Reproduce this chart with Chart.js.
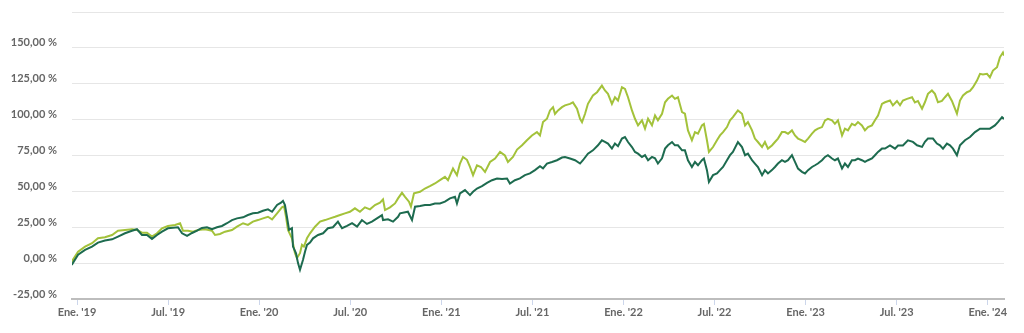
<!DOCTYPE html>
<html>
<head>
<meta charset="utf-8">
<script src="https://cdn.jsdelivr.net/npm/chart.js@4/dist/chart.umd.min.js"></script>
<style>
    body { margin: 0; background: #ffffff; }
    canvas { display: block; }
</style>
</head>
<body>
<canvas id="chart" width="1024" height="333"></canvas>
<script>
// x values are months counted from January 2019
var xTickValues = [0, 6, 12, 18, 24, 30, 36, 42, 48, 54, 60];
var xTickLabels = ["Ene. '19", "Jul. '19", "Ene. '20", "Jul. '20", "Ene. '21", "Jul. '21",
                   "Ene. '22", "Jul. '22", "Ene. '23", "Jul. '23", "Ene. '24"];

var darkMonths = [-0.35, 0.07, 0.53, 0.99, 1.38, 1.84, 2.31, 2.70, 3.16, 3.62, 3.95, 4.28, 4.61, 4.94, 5.27, 5.60, 5.99,
    6.65, 6.92, 7.25, 7.58, 7.91, 8.23, 8.56, 8.89, 9.22, 9.55, 9.88, 10.21, 10.54, 10.94, 11.26, 11.59, 11.92,
    12.25, 12.58, 12.85, 13.18, 13.44, 13.57, 13.70, 13.83, 13.97, 14.16, 14.23, 14.43, 14.56, 14.69, 14.89,
    15.02, 15.15, 15.35, 15.55, 15.88, 16.21, 16.53, 16.86, 17.19, 17.46, 17.79, 18.12, 18.45, 18.77, 19.10,
    19.43, 19.76, 20.09, 20.16, 20.49, 20.82, 21.15, 21.28, 21.80, 22.07, 22.27, 22.60, 22.92, 23.25, 23.58,
    23.91, 24.24, 24.57, 24.90, 25.03, 25.23, 25.56, 25.89, 26.09, 26.35, 26.68, 27.01, 27.34, 27.67, 28.00,
    28.33, 28.52, 28.85, 29.18, 29.51, 29.84, 30.17, 30.50, 30.70, 30.96, 31.29, 31.62, 31.95, 32.15, 32.48,
    32.81, 33.14, 33.33, 33.66, 33.99, 34.32, 34.58, 34.78, 34.98, 35.24, 35.44, 35.64, 35.90, 36.10, 36.30,
    36.56, 36.76, 36.96, 37.22, 37.42, 37.62, 37.88, 38.08, 38.27, 38.54, 38.74, 38.93, 39.20, 39.39, 39.59,
    39.86, 40.05, 40.25, 40.51, 40.71, 40.91, 41.17, 41.30, 41.50, 41.63, 41.90, 42.16, 42.36, 42.56, 42.82,
    43.02, 43.21, 43.54, 43.81, 44.01, 44.20, 44.47, 44.66, 44.86, 45.13, 45.32, 45.52, 45.78, 45.98, 46.18,
    46.44, 46.64, 46.84, 47.10, 47.30, 47.50, 47.76, 47.96, 48.16, 48.42, 48.62, 48.81, 49.08, 49.28, 49.47,
    49.74, 49.93, 50.13, 50.40, 50.59, 50.79, 51.05, 51.25, 51.45, 51.71, 51.91, 52.11, 52.37, 52.57, 52.77,
    53.03, 53.23, 53.56, 53.89, 54.09, 54.41, 54.74, 55.07, 55.34, 55.67, 55.86, 56.06, 56.39, 56.65, 56.85,
    57.05, 57.31, 57.51, 57.71, 57.97, 58.17, 58.50, 58.83, 59.16, 59.49, 59.82, 60.14, 60.47, 60.67, 60.94, 61.07];
var darkValues = [-1.2, 5.8, 9.2, 11.5, 14.3, 15.7, 16.6, 18.5, 20.8, 22.6, 23.6, 19.6, 19.6, 16.9, 19.6, 22, 24.3,
    25, 20.8, 19, 21, 22.6, 24.5, 25, 23.6, 25, 25.9, 27.8, 30, 31.2, 31.9, 33.5, 34.7, 35.1,
    36.5, 37.5, 35.8, 40.5, 42.1, 43.4, 40.5, 32.3, 23.1, 24.3, 11.5, 6.9, 0, -4.6, 2.3,
    8, 12.7, 14.3, 17.3, 19.6, 20.8, 24.3, 25, 28.9, 24.3, 25.9, 27.8, 25.4, 30, 27.3,
    28.9, 31.2, 33.5, 30, 30.5, 28.9, 32.3, 34.7, 35.8, 30, 39.3, 39.8, 40.5, 40.5, 41.6,
    41.6, 42.8, 45.1, 46.2, 41.6, 48.6, 50.9, 47.4, 49.7, 52, 53.6, 55.9, 57.8, 59, 58.6,
    59, 55.5, 57.8, 59, 61.3, 62.5, 64.8, 67.5, 66, 69.4, 70.5, 71.7, 73.6, 74, 72.9,
    71.7, 69.4, 71.7, 76.3, 78.6, 82.1, 85.6, 84.5, 83.3, 79.8, 83.3, 81.5, 86.8, 87.9, 84.4,
    80.9, 77.5, 76.3, 74, 75.2, 71.7, 74, 73, 69.4, 73, 79.8, 82.1, 84.4, 82.1, 82.1,
    78.6, 78.6, 71.7, 67, 70.5, 68.2, 71.7, 72.9, 64.8, 56.6, 61.3, 62.5, 64.8, 67, 71.7,
    75.2, 77.5, 84.4, 80.9, 75.2, 76.3, 71.7, 69.4, 67, 61.3, 64.8, 62.5, 64.8, 67, 69.4,
    71.7, 70.5, 71.7, 75.2, 70.5, 65.9, 63.6, 62.5, 64.8, 67, 68.2, 69.4, 71.7, 74, 75.2,
    72.9, 71.7, 72.9, 65.9, 69.4, 67, 71.7, 71.7, 72.9, 71.7, 70.5, 71.7, 72.9, 75.2, 77.5,
    79.8, 79.8, 82, 79.8, 82, 82, 85.6, 84.5, 82.1, 81, 84.5, 86.8, 86.8, 83.3, 82.1,
    79.8, 83.3, 82.1, 79.8, 75.2, 82.1, 85.6, 87.9, 91.3, 93.7, 93.7, 93.7, 96, 98.3, 101.7, 100.5];

var lightMonths = [-0.35, 0.07, 0.53, 0.99, 1.38, 1.84, 2.31, 2.70, 3.16, 3.62, 3.95, 4.28, 4.61, 4.94, 5.27, 5.60, 5.99,
    6.46, 6.79, 6.98, 7.31, 7.64, 7.97, 8.43, 8.89, 9.09, 9.42, 9.75, 10.21, 10.54, 10.94, 11.26, 11.59, 11.92,
    12.25, 12.58, 12.85, 13.18, 13.50, 13.64, 13.77, 13.90, 14.16, 14.36, 14.49, 14.69, 14.82, 14.95, 15.15,
    15.35, 15.68, 16.01, 16.34, 16.67, 17.00, 17.33, 17.65, 17.98, 18.31, 18.64, 18.97, 19.30, 19.63, 19.96,
    20.16, 20.29, 20.62, 20.95, 21.15, 21.41, 21.61, 21.87, 22.00, 22.20, 22.60, 22.92, 23.25, 23.58, 23.91,
    24.24, 24.44, 24.77, 25.03, 25.23, 25.43, 25.69, 25.89, 26.09, 26.35, 26.61, 26.88, 27.21, 27.54, 27.87,
    28.19, 28.39, 28.72, 28.99, 29.32, 29.64, 29.97, 30.30, 30.50, 30.70, 30.96, 31.16, 31.36, 31.49, 31.69,
    31.95, 32.15, 32.48, 32.67, 32.94, 33.14, 33.27, 33.47, 33.66, 33.99, 34.26, 34.58, 34.78, 34.98, 35.24,
    35.44, 35.64, 35.90, 36.10, 36.30, 36.56, 36.76, 36.96, 37.22, 37.42, 37.62, 37.88, 38.08, 38.27, 38.54,
    38.74, 38.93, 39.20, 39.39, 39.59, 39.86, 40.05, 40.25, 40.51, 40.71, 40.91, 41.17, 41.30, 41.50, 41.63,
    41.90, 42.16, 42.36, 42.56, 42.82, 43.02, 43.21, 43.54, 43.81, 44.01, 44.20, 44.47, 44.66, 44.86, 45.13,
    45.32, 45.52, 45.78, 45.98, 46.18, 46.44, 46.64, 46.84, 47.10, 47.30, 47.50, 47.76, 47.96, 48.16, 48.42,
    48.62, 48.81, 49.08, 49.28, 49.47, 49.74, 49.93, 50.13, 50.40, 50.59, 50.79, 51.05, 51.25, 51.45, 51.71,
    51.91, 52.11, 52.37, 52.57, 52.77, 53.03, 53.23, 53.56, 53.75, 54.02, 54.22, 54.41, 54.68, 55.01, 55.20,
    55.40, 55.67, 55.86, 56.06, 56.32, 56.52, 56.72, 56.98, 57.18, 57.38, 57.64, 57.84, 57.97, 58.17, 58.37,
    58.63, 58.83, 59.03, 59.29, 59.49, 59.68, 59.95, 60.14, 60.34, 60.61, 60.80, 61.00, 61.07];
var lightValues = [1, 8, 11.5, 13.9, 17.3, 18, 19.6, 22.6, 23.1, 23.6, 23.1, 21.2, 21.2, 18.5, 20.8, 24.3, 25.9,
    26.6, 27.8, 22.6, 22.6, 21.9, 23.1, 23.6, 22.6, 19.6, 20.3, 21.9, 23.1, 25.4, 27.8, 26.6, 28.9, 30,
    31.2, 32.3, 30.5, 34.7, 38.9, 39.6, 32.3, 23.1, 17.3, 6.9, 3.5, 6.9, 12.7, 11.5, 17.3,
    20.8, 25.4, 28.9, 30, 31.2, 32.3, 33.5, 34.7, 35.8, 38.2, 35.8, 38.9, 37.5, 40.5, 42.1,
    44.4, 37, 38.9, 41.6, 45.1, 49, 46.2, 42.8, 39.3, 48.6, 49.7, 52, 53.6, 55.5, 57.8,
    60.1, 57.8, 65.9, 61.3, 69.4, 74, 72, 67, 61.3, 68.2, 67, 63.6, 70.5, 72.9, 77.5,
    75, 70.5, 74, 79.1, 82.1, 85.6, 89, 91.3, 89, 98.3, 100.6, 106.4, 108.7, 104, 106.4,
    108.7, 109.9, 111, 112, 107.6, 100.6, 98.3, 104.1, 111, 116.8, 119.1, 123.7, 120.3, 118, 111,
    115.6, 113.3, 122.6, 121.4, 115.6, 106.4, 100.6, 96, 99.5, 93.7, 100.6, 96, 102.9, 99.5, 104.1,
    112.1, 114.5, 116.8, 114.5, 115.6, 105.2, 104.1, 92.5, 85.6, 91.3, 90.2, 96, 97, 85.6, 77.5,
    80.9, 85.6, 89, 91.3, 94.8, 99.5, 101.7, 106.4, 104.1, 96, 98.3, 92.5, 86.8, 84.4, 80.9,
    84.4, 79.8, 82, 84.4, 86.8, 91.3, 91.3, 90.2, 92.5, 89, 86.8, 85.6, 84.4, 86.8, 90.2,
    92.5, 93.7, 94.8, 99.5, 100.6, 99.5, 97.1, 99.5, 89, 93.7, 92.5, 97.1, 96, 98.3, 96,
    92.5, 94.8, 96, 99.5, 102.9, 111, 112.1, 113.3, 109.9, 113, 110, 113.3, 114.5, 115.6, 112,
    113, 107.6, 112.1, 118, 120.3, 118, 112.1, 113, 115.6, 118, 113, 107.6, 104.1, 113.3, 116.8,
    119.1, 120, 122.6, 127.2, 131.9, 131.5, 131.9, 129.5, 134.2, 136.5, 143.4, 146.8, 144.6];

function toPoints(xs, ys)
{
    return xs.map((x, i) => ({x: x, y: ys[i]}));
}

var labelFont = {family: "Lato", size: 11, weight: "bold"};

new Chart(document.getElementById("chart").getContext("2d"), {
    type: "line",
    data: {
        datasets: [
            {data: toPoints(darkMonths, darkValues), borderColor: "#1d6b4f", borderWidth: 2},
            {data: toPoints(lightMonths, lightValues), borderColor: "#a3c23a", borderWidth: 2}
        ]
    },
    options: {
        responsive: false,
        animation: false,
        devicePixelRatio: 1,
        layout: {padding: {left: 0, right: 20, top: 12, bottom: 0}},
        elements: {point: {radius: 0}, line: {tension: 0}},
        plugins: {legend: {display: false}, tooltip: {enabled: false}},
        scales: {
            x: {
                type: "linear",
                min: -0.33,
                max: 61.07,
                afterBuildTicks: axis => { axis.ticks = xTickValues.map(v => ({value: v})); },
                afterFit: axis => { axis.height = 34; },
                grid: {display: true, drawOnChartArea: false, drawTicks: true, tickLength: 6, tickColor: "#ccd6eb"},
                border: {display: true, color: "#bdbdbd", width: 2},
                ticks: {
                    padding: 1,
                    color: "#666666",
                    font: labelFont,
                    maxRotation: 0,
                    autoSkip: false,
                    callback: value => xTickLabels[xTickValues.indexOf(value)]
                }
            },
            y: {
                min: -25,
                max: 175,
                afterFit: axis => { axis.width = 72; },
                // the invisible tick marks push the labels away from the plot
                grid: {color: "#e6e6e6", drawTicks: true, tickLength: 15, tickColor: "rgba(0,0,0,0)"},
                border: {display: false},
                ticks: {
                    stepSize: 25,
                    padding: 0,
                    labelOffset: -5,
                    color: "#666666",
                    font: labelFont,
                    callback: value => value >= 175 ? "" : value.toFixed(2).replace(".", ",") + " %"
                }
            }
        }
    }
});
</script>
</body>
</html>
